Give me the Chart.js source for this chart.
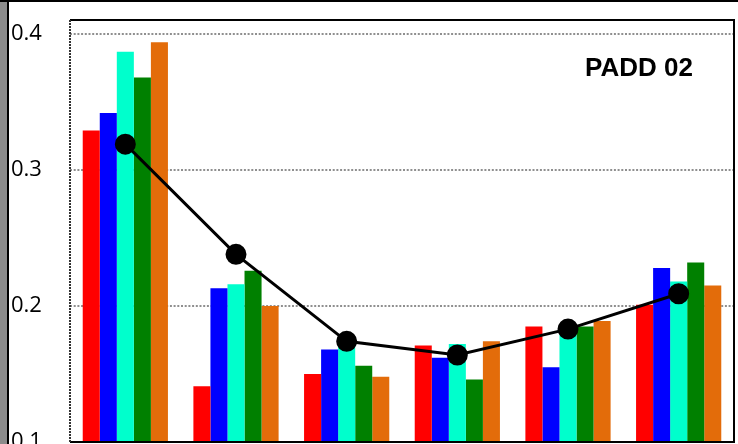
<!DOCTYPE html>
<html>
<head>
<meta charset="utf-8">
<script src="https://cdn.jsdelivr.net/npm/chart.js@4"></script>
<style>
  html, body { margin: 0; padding: 0; background: #fff; }
  #grafico { display: block; }
</style>
</head>
<body>
<canvas id="grafico" width="738" height="444"></canvas>
<script>
// datos
const categorias = ['1', '2', '3', '4', '5', '6'];
const serie1 = [0.329, 0.141, 0.150, 0.171, 0.185, 0.201];
const serie2 = [0.342, 0.213, 0.168, 0.162, 0.155, 0.228];
const serie3 = [0.387, 0.216, 0.175, 0.172, 0.183, 0.218];
const serie4 = [0.368, 0.226, 0.156, 0.146, 0.185, 0.232];
const serie5 = [0.394, 0.200, 0.148, 0.174, 0.189, 0.215];
const promedio = [0.319, 0.238, 0.174, 0.164, 0.183, 0.209];
const ticksY = [0.1, 0.2, 0.3, 0.4];

const colores = ['#ff0000', '#0000ff', '#00ffcc', '#008000', '#e36c0a'];
const series = [serie1, serie2, serie3, serie4, serie5];

// marco exterior, bordes del area y el rotulo
const marco = {
    id: 'marco',
    beforeDraw(chart) {
        const ctx = chart.ctx;
        ctx.save();
        ctx.fillStyle = '#8c8c8c';
        ctx.fillRect(0, 0, 7, 444);
        ctx.fillStyle = '#000';
        ctx.fillRect(7, 0, 2, 444);
        ctx.fillRect(0, 0, 738, 2);
        ctx.restore();
    },
    afterDraw(chart) {
        const { ctx, chartArea: a } = chart;
        ctx.save();
        ctx.strokeStyle = '#000';
        ctx.lineWidth = 2;
        ctx.beginPath();
        ctx.moveTo(a.left, a.top);
        ctx.lineTo(a.right, a.top);
        ctx.lineTo(a.right, a.bottom);
        ctx.lineTo(a.left, a.bottom);
        ctx.stroke();
        ctx.setLineDash([2, 1]);
        ctx.strokeStyle = '#333';
        ctx.beginPath();
        ctx.moveTo(a.left, a.top);
        ctx.lineTo(a.left, a.bottom);
        ctx.stroke();
        ctx.setLineDash([]);
        ctx.fillStyle = '#000';
        ctx.font = 'bold 26px "Liberation Sans", Arial, sans-serif';
        ctx.textAlign = 'right';
        ctx.textBaseline = 'alphabetic';
        ctx.fillText('PADD 02', 693, 76);
        ctx.restore();
    }
};

const datasets = series.map((s, i) => ({
    type: 'bar',
    label: 'Serie ' + (i + 1),
    data: s,
    backgroundColor: colores[i],
    borderWidth: 0,
    order: 1
}));

datasets.push({
    type: 'line',
    label: 'Promedio',
    data: promedio,
    borderColor: '#000',
    borderWidth: 3,
    pointRadius: 9,
    pointBackgroundColor: '#000',
    pointBorderColor: '#000',
    tension: 0,
    order: 0
});

new Chart(document.getElementById('grafico').getContext('2d'), {
    type: 'bar',
    data: {
        labels: categorias,
        datasets: datasets
    },
    options: {
        responsive: false,
        devicePixelRatio: 1,
        animation: false,
        categoryPercentage: 0.77,
        barPercentage: 1,
        layout: {
            autoPadding: false,
            padding: { left: 11, top: 20, right: 4, bottom: 2 }
        },
        plugins: {
            legend: { display: false },
            tooltip: { enabled: false }
        },
        scales: {
            x: {
                display: false
            },
            y: {
                min: 0.1,
                max: 0.4103,
                afterBuildTicks: scale => {
                    scale.ticks = ticksY.map(v => ({ value: v }));
                },
                afterFit: scale => {
                    scale.width = 59;
                    scale.paddingTop = 0;
                    scale.paddingBottom = 0;
                },
                border: { display: false, dash: [2, 1.7] },
                grid: {
                    drawTicks: false,
                    lineWidth: 2,
                    color: ctx => ctx.tick && ctx.tick.value <= 0.1 ? 'rgba(0,0,0,0)' : '#8f8f8f'
                },
                ticks: {
                    crossAlign: 'far',
                    color: '#000',
                    font: { family: '"Open Sans", sans-serif', size: 22 },
                    callback: v => v.toFixed(1)
                }
            }
        }
    },
    plugins: [marco]
});
</script>
</body>
</html>
